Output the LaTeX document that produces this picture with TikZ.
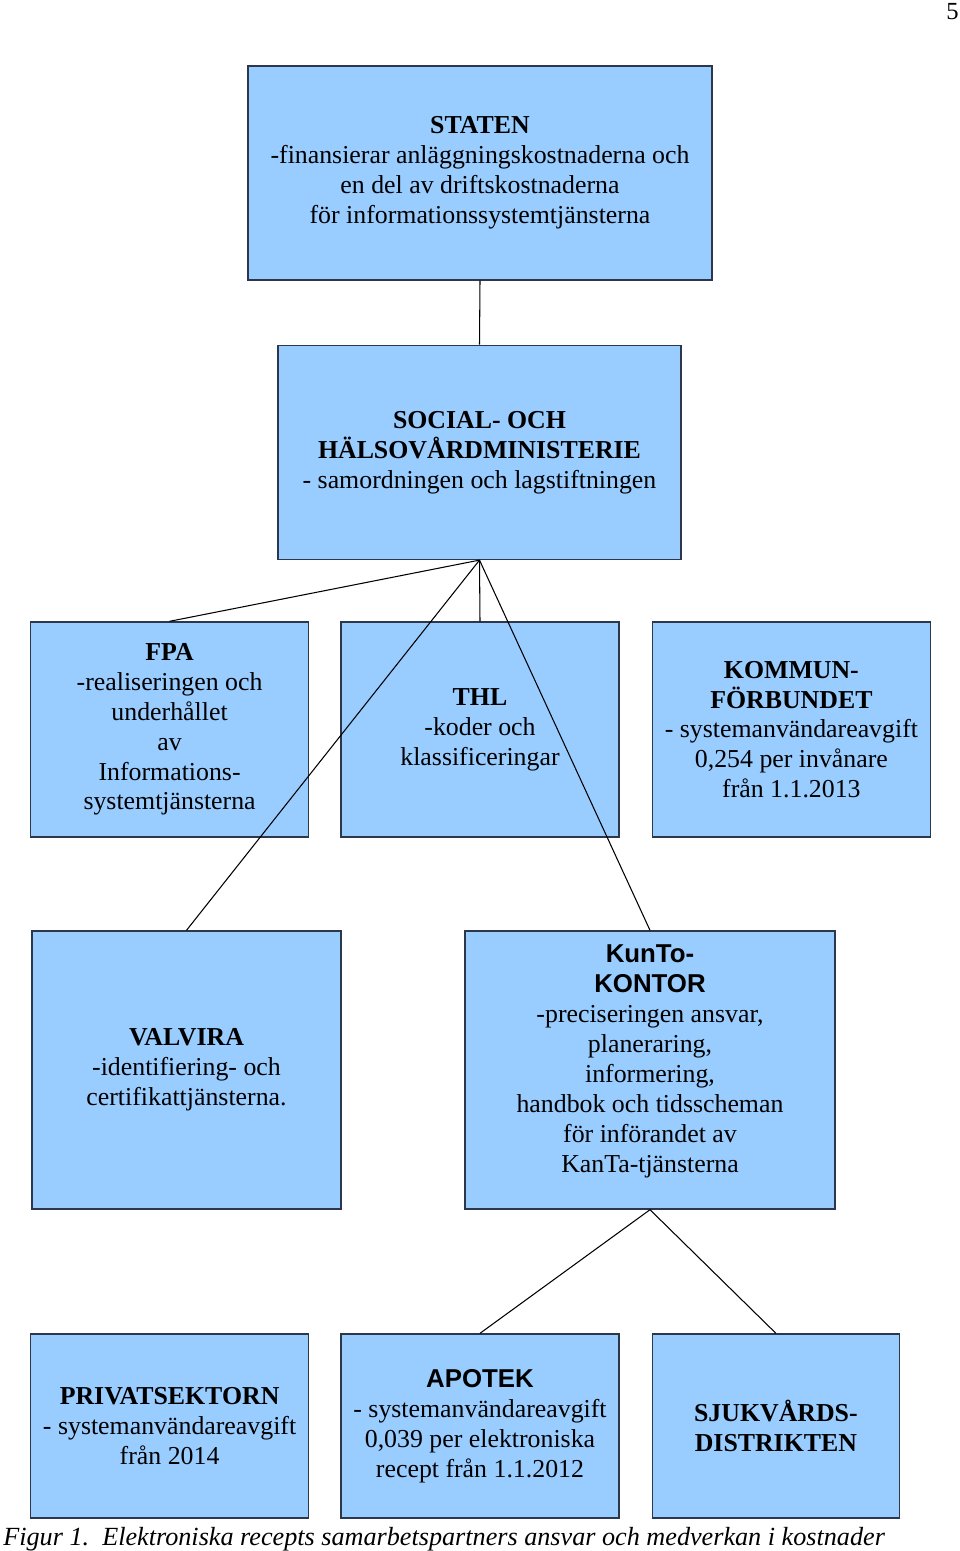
\documentclass[tikz,border=0pt]{standalone}
\usepackage{fontspec}
\setmainfont{Liberation Serif}
\newfontfamily\headsans{Liberation Sans}
\usetikzlibrary{positioning}
\definecolor{boxfill}{RGB}{153,204,255}
\definecolor{boxedge}{RGB}{45,55,75}
\tikzset{
  orgbox/.style={
    rectangle, draw=boxedge, fill=boxfill, line width=0.8pt,
    inner sep=0pt, align=center,
    font=\fontsize{14.7}{17}\selectfont
  },
  link/.style={draw=black, line width=0.6pt}
}

\begin{document}
\begin{tikzpicture}
\useasboundingbox (0,0) rectangle (19.2,-31.02);

% ═══════════════════════════════════════════════════════════════════
% TOP — STATE AND MINISTRY
% ═══════════════════════════════════════════════════════════════════

\node[orgbox, minimum width=9.28cm, minimum height=4.28cm]
  (staten) at (9.6,-3.46)
  {\textbf{STATEN}\\-finansierar anläggningskostnaderna och\\en del av driftskostnaderna\\för informationssystemtjänsterna};

\node[orgbox, minimum width=8.06cm, minimum height=4.28cm,
      below=1.28cm of staten, xshift=-0.01cm]
  (ministry) {\textbf{SOCIAL- OCH}\\\textbf{HÄLSOVÅRDMINISTERIE}\\- samordningen och lagstiftningen};

% ═══════════════════════════════════════════════════════════════════
% ROW 2 — FPA, THL, KOMMUNFÖRBUNDET
% ═══════════════════════════════════════════════════════════════════

\node[orgbox, minimum width=5.56cm, minimum height=4.30cm]
  (thl) at (9.6,-14.59) {\textbf{THL}\\-koder och\\klassificeringar};

\node[orgbox, minimum width=5.56cm, minimum height=4.30cm,
      left=0.62cm of thl]
  (fpa) {\textbf{FPA}\\-realiseringen och\\underhållet\\av\\Informations-\\systemtjänsterna};

\node[orgbox, minimum width=5.56cm, minimum height=4.30cm,
      right=0.64cm of thl]
  (kommun) {\textbf{KOMMUN-}\\\textbf{FÖRBUNDET}\\- systemanvändareavgift\\0,254 per invånare\\från 1.1.2013};

% ═══════════════════════════════════════════════════════════════════
% ROW 3 — VALVIRA, KUNTO-KONTOR
% ═══════════════════════════════════════════════════════════════════

\node[orgbox, minimum width=6.18cm, minimum height=5.56cm]
  (valvira) at (3.73,-21.4)
  {\textbf{VALVIRA}\\-identifiering- och\\certifikattjänsterna.};

% text sits a little high in this box
\node[orgbox, minimum width=7.4cm, minimum height=5.56cm]
  (kunto) at (13.0,-21.4)
  {{\headsans\bfseries KunTo-}\\{\headsans\bfseries KONTOR}\\-preciseringen ansvar,\\planeraring,\\informering,\\handbok och tidsscheman\\för införandet av\\KanTa-tjänsterna\\[-4pt]\mbox{}};

% ═══════════════════════════════════════════════════════════════════
% ROW 4 — PRIVATSEKTORN, APOTEK, SJUKVÅRDSDISTRIKTEN
% ═══════════════════════════════════════════════════════════════════

\node[orgbox, minimum width=5.56cm, minimum height=3.68cm]
  (apotek) at (9.6,-28.52)
  {{\headsans\bfseries APOTEK}\\- systemanvändareavgift\\0,039 per elektroniska\\recept från 1.1.2012};

\node[orgbox, minimum width=5.56cm, minimum height=3.68cm,
      left=0.62cm of apotek]
  (privat) {\textbf{PRIVATSEKTORN}\\- systemanvändareavgift\\från 2014};

\node[orgbox, minimum width=4.94cm, minimum height=3.68cm,
      right=0.64cm of apotek.east, anchor=west]
  (sjukv) {\textbf{SJUKVÅRDS-}\\\textbf{DISTRIKTEN}};

% ═══════════════════════════════════════════════════════════════════
% CONNECTORS
% ═══════════════════════════════════════════════════════════════════

\draw[link] (staten.south) -- (ministry.north);

\draw[link] (ministry.south) -- (fpa.north);
\draw[link] (ministry.south) -- (thl.north);
\draw[link] (ministry.south) -- (valvira.north);
\draw[link] (ministry.south) -- (kunto.north);

\draw[link] (kunto.south) -- (apotek.north);
\draw[link] (kunto.south) -- (sjukv.north);

% ═══════════════════════════════════════════════════════════════════
% CAPTION AND PAGE NUMBER
% ═══════════════════════════════════════════════════════════════════

\node[anchor=base west, font=\fontsize{14.9}{17}\selectfont\itshape, inner sep=0pt]
  (caption) at (0.06,-30.9)
  {Figur 1.\ \ Elektroniska recepts samarbetspartners ansvar och medverkan i kostnader};

\node[anchor=base east, font=\fontsize{14}{17}\selectfont, inner sep=0pt]
  (pagenum) at (19.18,-0.38) {5};

\end{tikzpicture}
\end{document}
